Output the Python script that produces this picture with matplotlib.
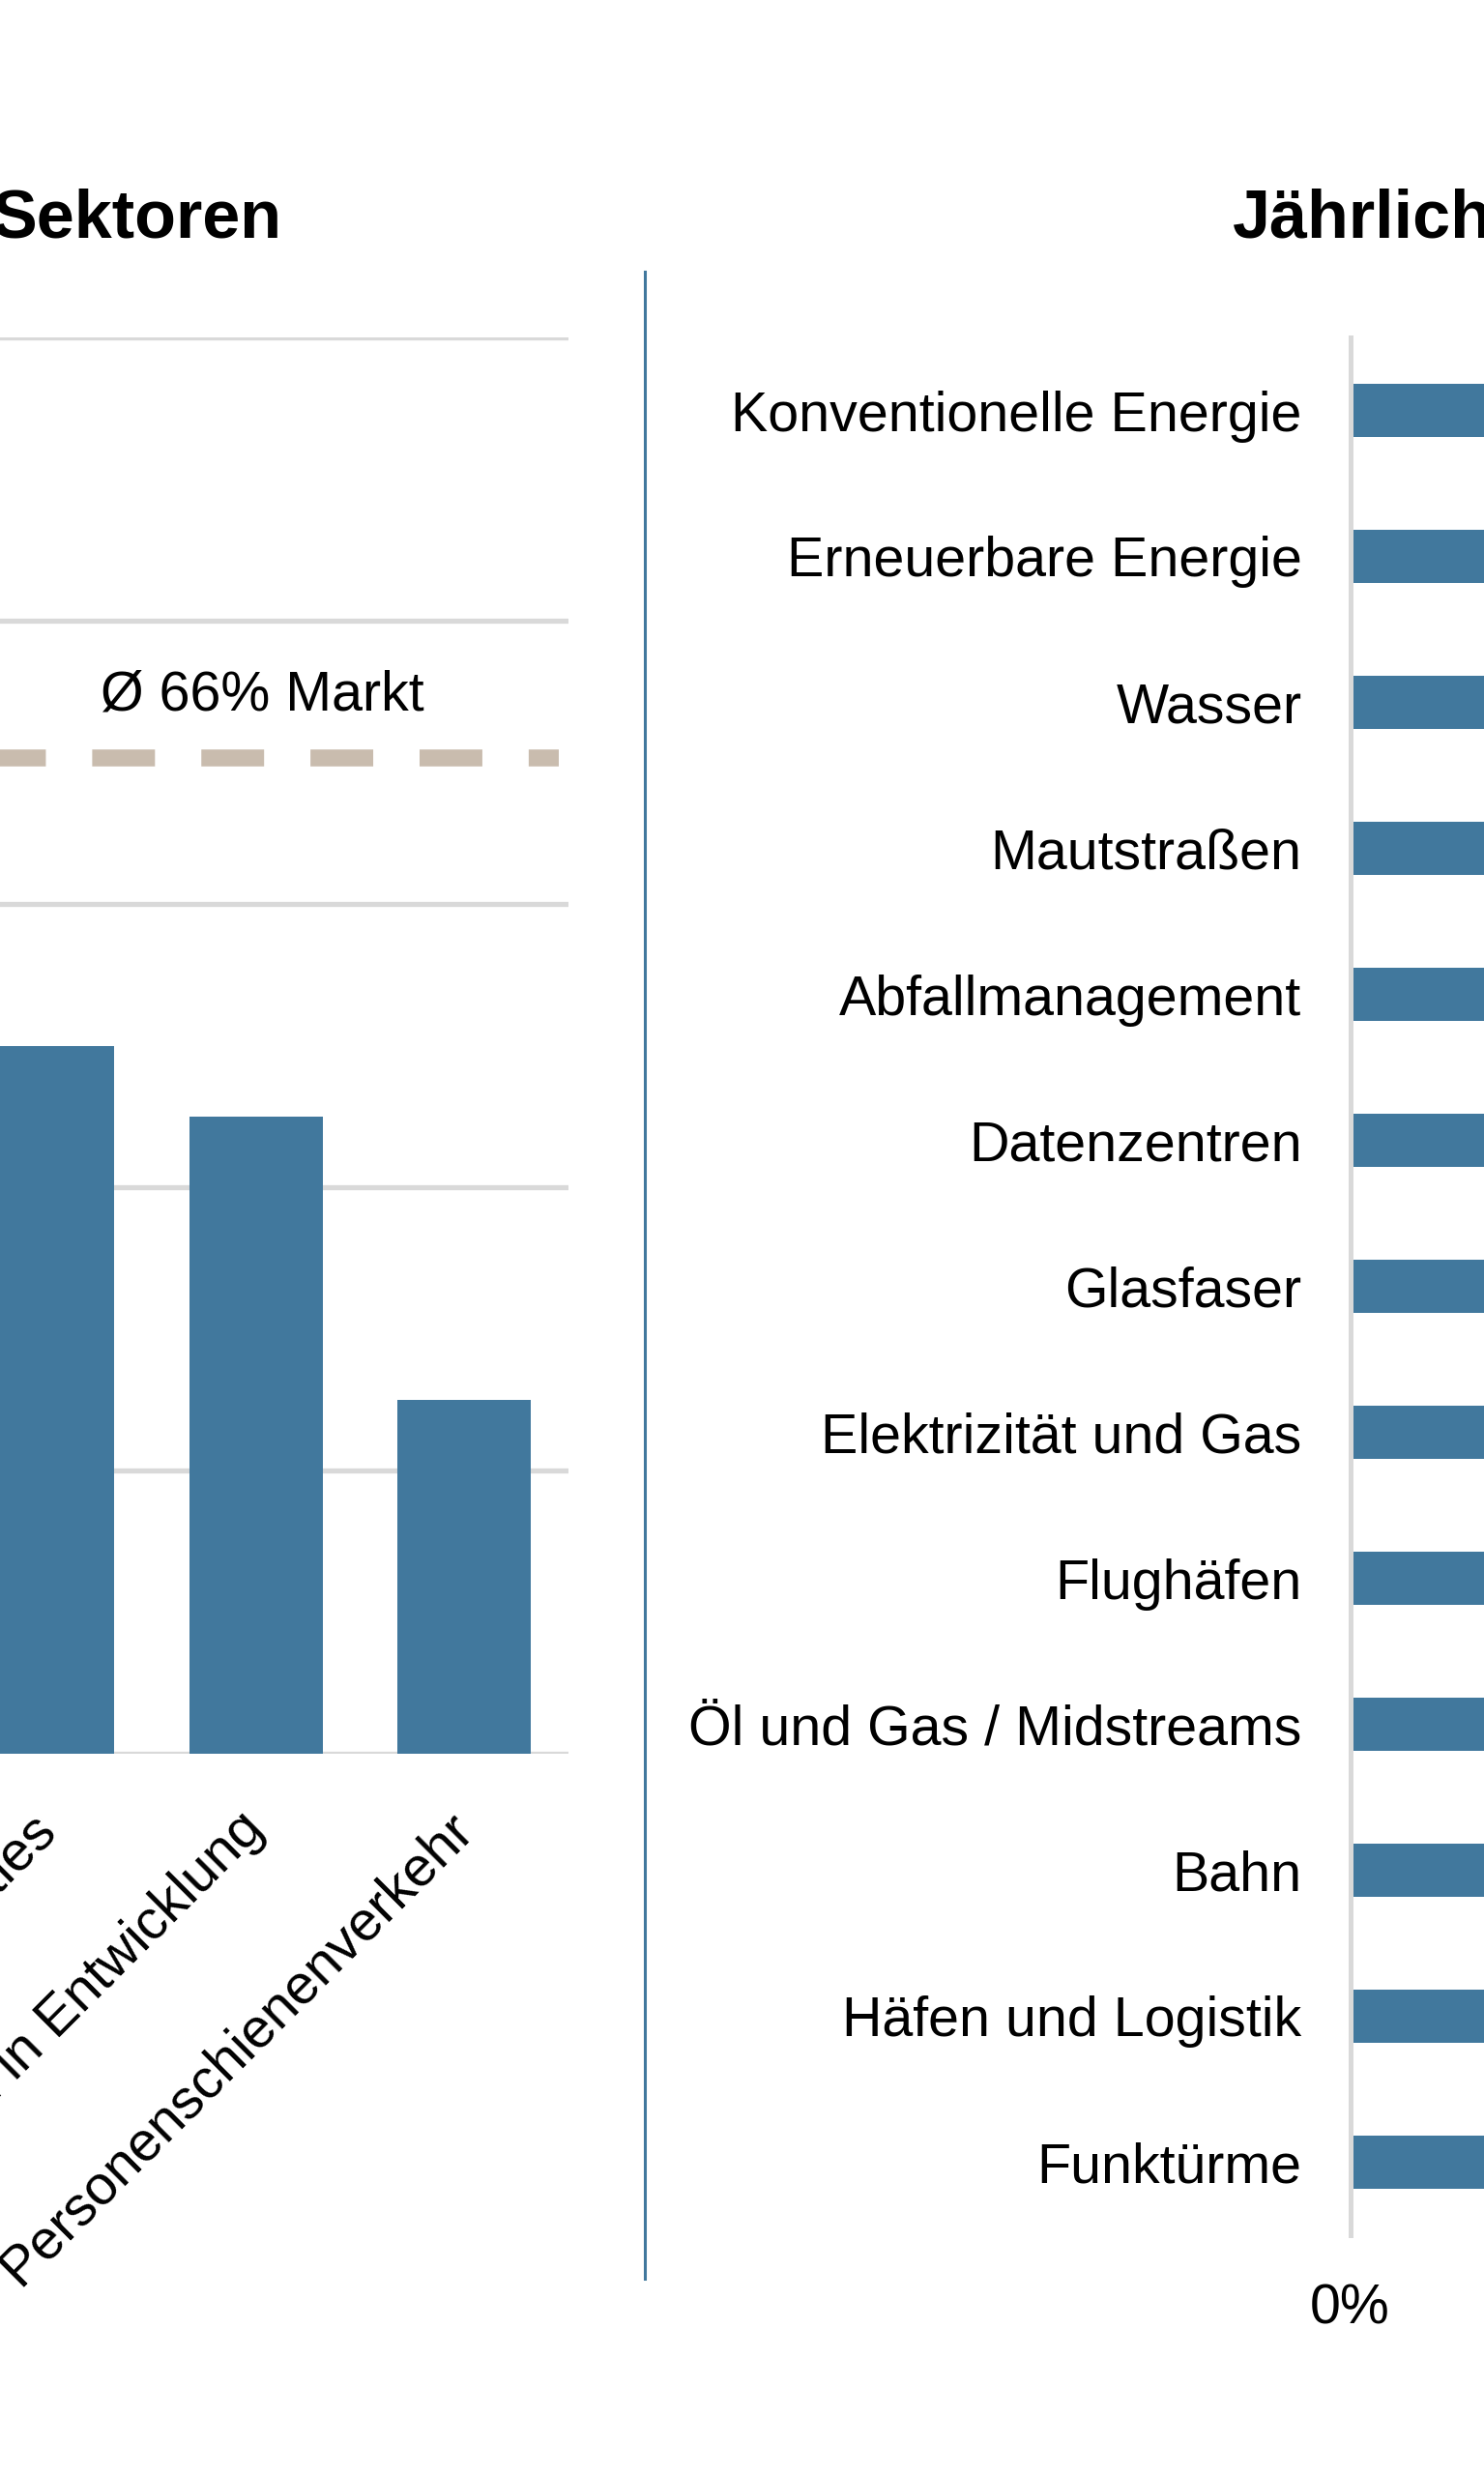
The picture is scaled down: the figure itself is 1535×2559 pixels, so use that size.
import matplotlib
matplotlib.use("Agg")
import matplotlib.pyplot as plt
from matplotlib.lines import Line2D

plt.rcParams['font.family'] = ['Liberation Sans', 'DejaVu Sans']

# left chart: sectors (only the right part is visible)
sector_labels = ["Utilities", "Anlagen in Entwicklung", "Personenschienenverkehr"]
sector_values = [50, 45, 25]
market_avg = 70.3
market_text = "Ø 66% Markt"

# right chart: yearly values per sector (bars run past the right edge)
branch_labels = [
    "Konventionelle Energie", "Erneuerbare Energie", "Wasser", "Mautstraßen",
    "Abfallmanagement", "Datenzentren", "Glasfaser", "Elektrizität und Gas",
    "Flughäfen", "Öl und Gas / Midstreams", "Bahn", "Häfen und Logistik",
    "Funktürme",
]
branch_values = [12.5, 11.8, 11.2, 10.9, 10.5, 10.1, 9.8, 9.4, 9.0, 8.7, 8.3, 7.9, 7.5]

BLUE = "#41789d"
GRID = "#d9d9d9"
SAND = "#c9bcae"
FS = 41.3

W, H = 1535, 2559
fig = plt.figure(figsize=(W / 100, H / 100), dpi=100)
fig.patch.set_facecolor("white")


def px(x0, y0, x1, y1):
    # pixel box (top-left origin) -> figure fraction rect
    return [x0 / W, 1 - y1 / H, (x1 - x0) / W, (y1 - y0) / H]


# ---- left bar chart
ax1 = fig.add_axes(px(-58.25, 349, 588, 1814))
xs = range(len(sector_values))
ax1.bar(xs, sector_values, width=0.64, color=BLUE, zorder=3)
ax1.set_xlim(-0.5, len(sector_values) - 0.5)
ax1.set_ylim(0, 100)
ax1.set_yticks([0, 20, 40, 60, 80, 100])
ax1.yaxis.grid(True, color=GRID, linewidth=3.8, zorder=0)
ax1.set_axisbelow(True)
for s in ax1.spines.values():
    s.set_visible(False)
ax1.tick_params(axis="both", length=0, labelleft=False)
ax1.set_xticks(list(xs))
ax1.set_xticklabels(sector_labels, rotation=45, ha="right", va="center",
                    rotation_mode="anchor", fontsize=FS)
ax1.tick_params(axis="x", pad=50)

# average line, starting at the figure edge with a dash phase offset
ax1.plot([-0.2297, 2.452], [market_avg, market_avg], color=SAND, linewidth=12.6,
         linestyle=(1.0, (3.71, 2.74)), dash_capstyle="butt", zorder=2)
ax1.text(1.03, market_avg + 3.4, market_text, ha="center", va="baseline", fontsize=FS)

fig.text(291 / W, 1 - 245 / H, "Sektoren", ha="right", va="baseline",
         fontsize=50.5, fontweight="bold")

# ---- right horizontal bar chart
ax2 = fig.add_axes(px(1396.5, 349, 1396.5 + 770, 2312))
ys = range(len(branch_values))
ax2.barh(ys, branch_values, height=0.364, color=BLUE, zorder=1)
ax2.set_ylim(len(branch_values) - 0.5, -0.5)
ax2.set_xlim(0, 20)
ax2.set_xticks([0])
ax2.set_xticklabels(["0%"], fontsize=FS)
ax2.set_yticks(list(ys))
ax2.set_yticklabels(branch_labels, fontsize=FS)
for k in ["top", "right", "bottom"]:
    ax2.spines[k].set_visible(False)
ax2.spines["left"].set_color(GRID)
ax2.spines["left"].set_linewidth(3.6)
ax2.spines["left"].set_zorder(3)
ax2.tick_params(axis="y", length=0, pad=36)
ax2.tick_params(axis="x", length=0, pad=36)

fig.text(1275 / W, 1 - 245 / H, "Jährlich", ha="left", va="baseline",
         fontsize=50.5, fontweight="bold")

# divider between the two panels
fig.add_artist(Line2D([667 / W, 667 / W], [1 - 281 / H, 1 - 2357 / H],
                      transform=fig.transFigure, color=BLUE, linewidth=2.2))

fig.savefig("out.png", dpi=100, facecolor="white")
